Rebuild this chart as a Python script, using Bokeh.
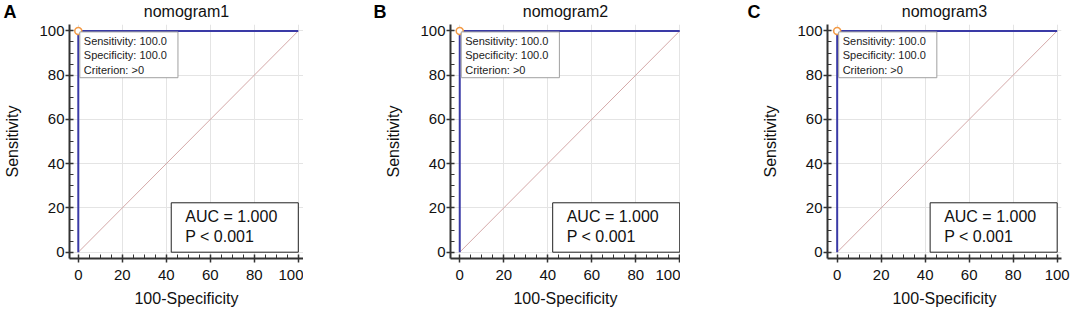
from bokeh.plotting import figure
from bokeh.layouts import row
from bokeh.models import Range1d, Label, Spacer, FixedTicker, Title
from bokeh.embed import file_html
from bokeh.resources import INLINE

# ---------------- data ----------------
panel_letters = ["A", "B", "C"]
titles = ["nomogram1", "nomogram2", "nomogram3"]
roc_fpr = [[0, 0, 100], [0, 0, 100], [0, 0, 100]]       # 100-Specificity
roc_tpr = [[0, 100, 100], [0, 100, 100], [0, 100, 100]]  # Sensitivity
chance_x = [0, 100]
chance_y = [0, 100]
op_fpr = [0, 0, 0]
op_tpr = [100, 100, 100]
sensitivity = [100.0, 100.0, 100.0]
specificity = [100.0, 100.0, 100.0]
criterion = [">0", ">0", ">0"]
auc = [1.000, 1.000, 1.000]
p_text = ["< 0.001", "< 0.001", "< 0.001"]
axis_ticks = [0, 20, 40, 60, 80, 100]
minor_ticks = [5, 10, 15, 25, 30, 35, 45, 50, 55, 65, 70, 75, 85, 90, 95]

# ---------------- layout / style ----------------
FONT = "Liberation Sans"
BLUE = "#3a3aa6"
border_left = [69, 80, 82]
frame_w = [234, 230, 234]
border_right = [0, 0, 11]
x_start = [-4.0, -4.2, -4.4]
letter_dx = [-66, -77, -80]     # letter position relative to frame left (px)
gaps = [67, 65]
PX_PER_UNIT = 2.2
H = 310
Y0, Y1 = -2.85, 102.9
FRAME_H = 234


def make_panel(i):
    xs = x_start[i]
    xe = xs + frame_w[i] / PX_PER_UNIT
    p = figure(frame_width=frame_w[i], frame_height=FRAME_H,
               x_range=Range1d(xs, xe), y_range=Range1d(Y0, Y1),
               output_backend="svg", toolbar_location=None,
               min_border_left=border_left[i], min_border_right=border_right[i],
               min_border_top=24, min_border_bottom=52, title=None)
    p.outline_line_color = None
    p.background_fill_color = "white"
    p.border_fill_color = "white"

    # panel title (closest to the frame)
    t = Title(text=titles[i], align="center", vertical_align="top",
              text_font=FONT, text_font_size="16px", text_font_style="normal",
              text_color="#111111", standoff=3.6)
    p.add_layout(t, "above")
    # panel letter (outer, pulled down onto the same line)
    lt = Title(text=panel_letters[i], align="left", vertical_align="bottom",
               offset=letter_dx[i], standoff=-41,
               text_font=FONT, text_font_size="18px", text_font_style="bold",
               text_color="#000000")
    p.add_layout(lt, "above")

    ticker = FixedTicker(ticks=axis_ticks, minor_ticks=minor_ticks)
    for ax in (p.xaxis[0], p.yaxis[0]):
        ax.ticker = ticker
        ax.axis_line_width = 2
        ax.axis_line_color = "#333333"
        ax.major_tick_in = 4
        ax.major_tick_out = 4
        ax.major_tick_line_color = "#333333"
        ax.major_tick_line_width = 1.5
        ax.minor_tick_in = 4
        ax.minor_tick_out = 0
        ax.minor_tick_line_color = "#333333"
        ax.minor_tick_line_width = 1
        ax.major_label_text_font = FONT
        ax.major_label_text_font_size = "15px"
        ax.major_label_text_color = "#111111"
        ax.axis_label_text_font = FONT
        ax.axis_label_text_font_size = "16px"
        ax.axis_label_text_font_style = "normal"
        ax.axis_label_text_color = "#111111"
    p.xaxis[0].axis_label = "100-Specificity"
    p.xaxis[0].major_label_standoff = 7
    p.xaxis[0].axis_label_standoff = 7
    p.yaxis[0].axis_label = "Sensitivity"
    p.yaxis[0].major_label_standoff = 1
    p.yaxis[0].axis_label_standoff = 15

    for g in (p.xgrid[0], p.ygrid[0]):
        g.ticker = ticker
        g.grid_line_color = "#e4e4e4"
        g.grid_line_width = 1

    p.line(chance_x, chance_y, line_color="#d4a8a8", line_width=1)
    p.line(roc_fpr[i], roc_tpr[i], line_color=BLUE, line_width=2)
    p.scatter([op_fpr[i]], [op_tpr[i]], marker="circle", size=7,
              line_color="#f39a45", fill_color="white", line_width=1.5)

    # padding order: (left, right, top, bottom)
    info = Label(x=op_fpr[i], y=op_tpr[i],
                 text=(f"Sensitivity: {sensitivity[i]:.1f}\n"
                       f"Specificity: {specificity[i]:.1f}\n"
                       f"Criterion: {criterion[i]}"),
                 text_font=FONT, text_font_size="11px", text_color="#222222",
                 anchor="top_left", text_align="left", text_baseline="top",
                 padding=(4, 11, 3, 2), x_offset=1.5, y_offset=-1,
                 background_fill_color="white",
                 border_line_color="#a0a0a0", border_line_width=1)
    p.add_layout(info)

    auc_box = Label(x=100, y=0,
                    text=f"AUC = {auc[i]:.3f}\nP {p_text[i]}",
                    text_font=FONT, text_font_size="16px", text_color="#111111",
                    anchor="bottom_right", text_align="left",
                    padding=(14, 21, 5, 7),
                    background_fill_color="white",
                    border_line_color="#222222", border_line_width=1)
    p.add_layout(auc_box)
    return p


panels = [make_panel(i) for i in range(3)]
layout = row(panels[0], Spacer(width=gaps[0], height=H),
             panels[1], Spacer(width=gaps[1], height=H), panels[2])

open("out.html", "w").write(file_html(layout, INLINE))
